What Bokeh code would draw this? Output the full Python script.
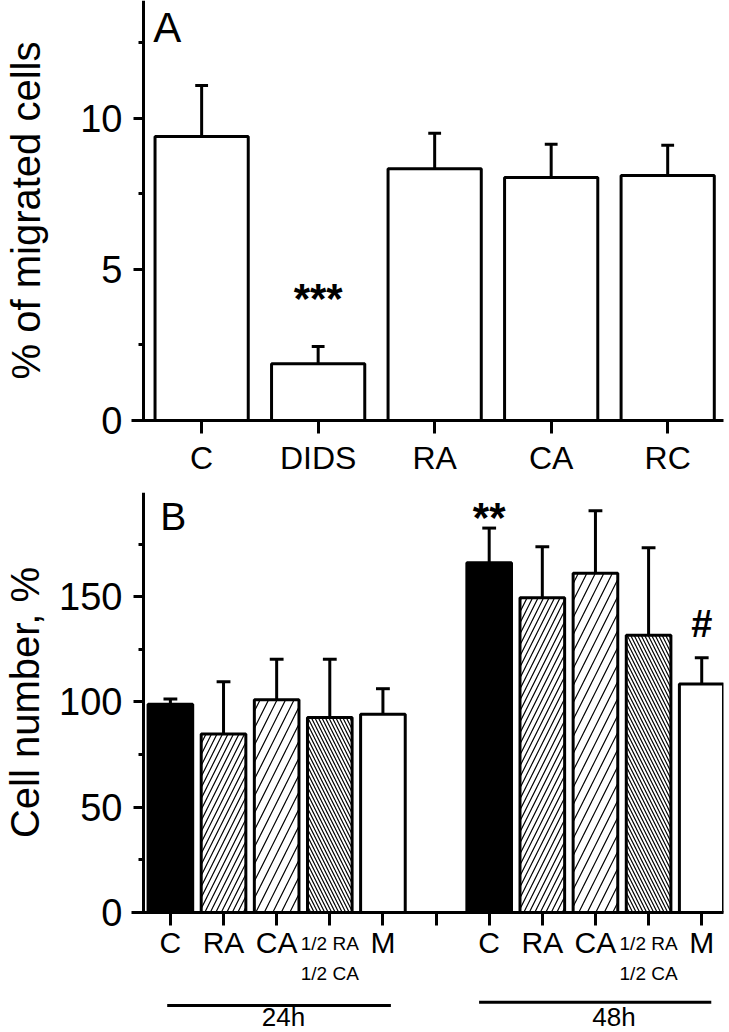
from bokeh.plotting import figure
from bokeh.models import Range1d, LinearAxis, FixedTicker, SingleIntervalTicker
from bokeh.layouts import column
from bokeh.embed import file_html
from bokeh.resources import INLINE
from bokeh.core.properties import value

FONT = "Liberation Sans"

# ---------------- data ----------------
# Panel A: % of migrated cells
a_groups = ["C", "DIDS", "RA", "CA", "RC"]
a_mean = [9.40, 1.88, 8.33, 8.04, 8.11]
a_sem = [1.69, 0.57, 1.18, 1.10, 1.00]

# Panel B: cell number, %
b_groups = ["C", "RA", "CA", "1/2 RA\n1/2 CA", "M"]
b_times = ["24h", "48h"]
b_24h_mean = [98.9, 84.8, 101.1, 92.6, 94.2]
b_24h_sem = [2.5, 24.8, 19.2, 27.7, 12.1]
b_48h_mean = [166.1, 149.5, 161.1, 131.7, 108.5]
b_48h_sem = [16.5, 24.2, 29.7, 41.5, 12.5]

# styles per group in B
b_fill = ["black", "white", "white", "white", "white"]
b_hatch = [" ", "/", "/", "\\", " "]
b_hatch_scale = [12, 11, 17, 7, 12]

LW = 3


def style_plain(p, transparent=False):
    p.outline_line_color = None
    p.background_fill_color = None if transparent else "white"
    p.border_fill_color = None if transparent else "white"
    for g in p.grid:
        g.visible = False


def add_yaxes(p, interval, title, title_standoff):
    # labels + title at the frame edge
    lab = LinearAxis(ticker=SingleIntervalTicker(interval=interval, num_minor_ticks=2))
    lab.axis_line_color = None
    lab.major_tick_line_color = None
    lab.minor_tick_line_color = None
    lab.major_tick_out = 0
    lab.major_tick_in = 0
    lab.minor_tick_out = 0
    lab.minor_tick_in = 0
    lab.major_label_text_font = FONT
    lab.major_label_text_font_size = "38px"
    lab.major_label_text_color = "black"
    lab.major_label_standoff = 9
    lab.axis_label = title
    lab.axis_label_text_font = FONT
    lab.axis_label_text_font_size = "40px"
    lab.axis_label_text_font_style = "normal"
    lab.axis_label_text_color = "black"
    lab.axis_label_standoff = title_standoff
    p.add_layout(lab, "left")
    # the drawn axis line with ticks, set at x = -0.5
    ax = LinearAxis(fixed_location=-0.5,
                    ticker=SingleIntervalTicker(interval=interval, num_minor_ticks=2))
    ax.axis_line_width = LW
    ax.axis_line_color = "black"
    ax.major_tick_line_width = LW
    ax.minor_tick_line_width = LW
    ax.major_tick_out = 10
    ax.major_tick_in = 0
    ax.minor_tick_out = 5
    ax.minor_tick_in = 0
    ax.major_label_text_color = None
    ax.major_label_text_font_size = "1px"
    ax.major_label_standoff = 0
    p.add_layout(ax, "left")


# ---------------- Panel A ----------------
pA = figure(width=729, height=478, x_range=Range1d(-0.602, 4.479), y_range=Range1d(0, 13.9),
            output_backend="svg", toolbar_location=None, y_axis_location=None,
            min_border_left=127, min_border_right=4, min_border_top=0, min_border_bottom=58)
style_plain(pA)

xa = list(range(len(a_groups)))
a_up = [m + s for m, s in zip(a_mean, a_sem)]
pA.segment(x0=xa, y0=a_mean, x1=xa, y1=a_up, line_color="black", line_width=LW)
pA.segment(x0=[x - 0.055 for x in xa], y0=a_up, x1=[x + 0.055 for x in xa], y1=a_up,
           line_color="black", line_width=LW)
pA.vbar(x=xa, top=a_mean, width=0.8, bottom=0, fill_color="white", line_color="black", line_width=LW)

ax = pA.xaxis[0]
ax.ticker = FixedTicker(ticks=xa)
ax.major_label_overrides = {i: g for i, g in enumerate(a_groups)}
ax.axis_line_width = LW
ax.major_tick_line_width = LW
ax.major_tick_out = 13
ax.major_tick_in = 0
ax.minor_tick_line_color = None
ax.major_label_text_font = FONT
ax.major_label_text_font_size = "32px"
ax.major_label_text_color = "black"
ax.major_label_standoff = 6

add_yaxes(pA, 5, "% of migrated cells", 29)

pA.text(x=[-0.415], y=[13.0], text=["A"], text_font=value(FONT), text_font_size="42px",
        text_align="left", text_baseline="alphabetic", text_color="black")
pA.text(x=[1], y=[4.04], text=["***"], text_font=value(FONT), text_font_size="42px",
        text_font_style="bold", text_align="center", text_baseline="alphabetic", text_color="black")

# ---------------- Panel B ----------------
xrB = Range1d(-0.732, 10.41)
pB = figure(width=729, height=467, x_range=xrB, y_range=Range1d(0, 199.5),
            output_backend="svg", toolbar_location=None, y_axis_location=None,
            min_border_left=127, min_border_right=6, min_border_top=14, min_border_bottom=33)
style_plain(pB)

n = len(b_groups)
xb = list(range(n)) + [n + 1 + i for i in range(n)]
b_mean = b_24h_mean + b_48h_mean
b_sem = b_24h_sem + b_48h_sem
b_up = [m + s for m, s in zip(b_mean, b_sem)]
pB.segment(x0=xb, y0=b_mean, x1=xb, y1=b_up, line_color="black", line_width=LW)
pB.segment(x0=[x - 0.13 for x in xb], y0=b_up, x1=[x + 0.13 for x in xb], y1=b_up,
           line_color="black", line_width=LW)
pB.vbar(x=xb, top=b_mean, width=0.84, bottom=0, fill_color=b_fill * 2, line_color="black",
        line_width=LW, hatch_pattern=b_hatch * 2, hatch_scale=b_hatch_scale * 2,
        hatch_color="black", hatch_weight=1.2)

bx = pB.xaxis[0]
bx.ticker = FixedTicker(ticks=list(range(2 * n + 1)))
bx.axis_line_width = LW
bx.major_tick_line_width = LW
bx.major_tick_out = 13
bx.major_tick_in = 0
bx.minor_tick_line_color = None
bx.major_label_text_color = None
bx.major_label_text_font_size = "1px"
bx.major_label_standoff = 0

add_yaxes(pB, 50, "Cell number, %", 9)

pB.text(x=[-0.19], y=[188.3], text=["B"], text_font=value(FONT), text_font_size="39px",
        text_align="left", text_baseline="alphabetic", text_color="black")
pB.text(x=[n + 1], y=[187.8], text=["**"], text_font=value(FONT), text_font_size="42px",
        text_font_style="bold", text_align="center", text_baseline="alphabetic", text_color="black")
pB.text(x=[2 * n], y=[137.0], text=["#"], text_font=value(FONT), text_font_size="38px",
        text_font_style="bold", text_align="center", text_baseline="alphabetic", text_color="black")

# ---------------- Panel B tick labels & time groups (overlaps B's lower border) ----------------
pC = figure(width=729, height=106, x_range=xrB, y_range=Range1d(106, 0),
            output_backend="svg", toolbar_location=None, x_axis_location=None, y_axis_location=None,
            min_border_left=127, min_border_right=6, min_border_top=0, min_border_bottom=0,
            margin=(-19, 0, 0, 0))
style_plain(pC, transparent=True)

main_x, main_t, small1_x, small1_t, small2_t = [], [], [], [], []
for x, g in zip(xb, b_groups * 2):
    if "\n" in g:
        l1, l2 = g.split("\n")
        small1_x.append(x)
        small1_t.append(l1)
        small2_t.append(l2)
    else:
        main_x.append(x)
        main_t.append(g)

pC.text(x=main_x, y=[16] * len(main_x), text=main_t, text_font=value(FONT), text_font_size="30px",
        text_align="center", text_baseline="alphabetic", text_color="black")
pC.text(x=small1_x, y=[17] * len(small1_x), text=small1_t, text_font=value(FONT), text_font_size="19px",
        text_align="center", text_baseline="alphabetic", text_color="black")
pC.text(x=small1_x, y=[47] * len(small1_x), text=small2_t, text_font=value(FONT), text_font_size="19px",
        text_align="center", text_baseline="alphabetic", text_color="black")

pC.segment(x0=[-0.06, 5.81], y0=[79, 75.7], x1=[4.15, 10.18], y1=[79, 75.7],
           line_color="black", line_width=LW)
pC.text(x=[2.13, 8.35], y=[90.4, 90.4], text=b_times, text_font=value(FONT), text_font_size="26px",
        text_align="center", text_baseline="alphabetic", text_color="black")

layout = column(pA, pB, pC, spacing=0)

with open("out.html", "w") as f:
    f.write(file_html(layout, INLINE))
